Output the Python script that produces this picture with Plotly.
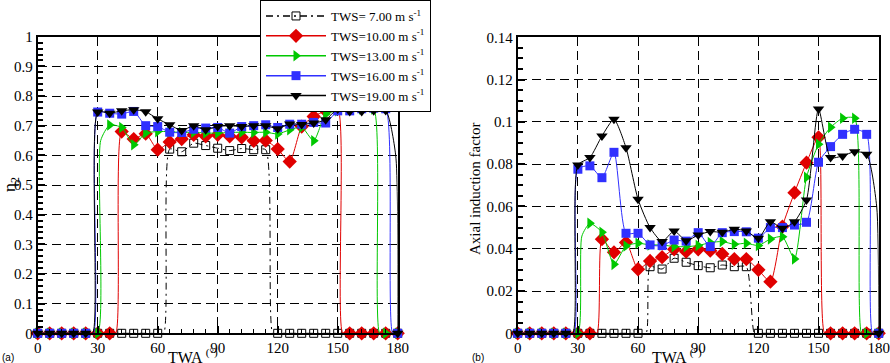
"""Two-panel sail chart: eta_2 and axial induction factor vs true wind angle."""

import plotly.graph_objects as go

SERIF = "Liberation Serif"

twa = list(range(0, 181, 6))

names = [
    "TWS= 7.00 m s<sup>-1</sup>",
    "TWS=10.00 m s<sup>-1</sup>",
    "TWS=13.00 m s<sup>-1</sup>",
    "TWS=16.00 m s<sup>-1</sup>",
    "TWS=19.00 m s<sup>-1</sup>",
]

# panel (a): eta_2 at every 6 deg
eta_7 = [0] * 11 + [0.621, 0.612, 0.641, 0.633, 0.624, 0.616, 0.623, 0.619, 0.619] + [0] * 11
eta_10 = [0] * 7 + [0.68, 0.655, 0.673, 0.619, 0.645, 0.655, 0.669, 0.664, 0.669, 0.664,
                    0.661, 0.649, 0.65, 0.621, 0.579, 0.697, 0.731, 0.75, 0.758] + [0] * 5
eta_13 = [0] * 6 + [0.702, 0.694, 0.636, 0.675, 0.68, 0.68, 0.677, 0.678, 0.675, 0.675,
                    0.677, 0.678, 0.677, 0.678, 0.672, 0.686, 0.695, 0.649, 0.739, 0.75,
                    0.758, 0.756, 0.756, 0, 0]
eta_16 = [0] * 5 + [0.746, 0.742, 0.739, 0.748, 0.70, 0.697, 0.678, 0.677, 0.688, 0.692,
                    0.694, 0.675, 0.697, 0.70, 0.703, 0.694, 0.705, 0.705, 0.711, 0.709,
                    0.75, 0.75, 0.757, 0.759, 0.757, 0]
eta_19 = [0] * 5 + [0.746, 0.742, 0.75, 0.754, 0.747, 0.723, 0.703, 0.684, 0.70, 0.686,
                    0.697, 0.70, 0.697, 0.70, 0.70, 0.69, 0.706, 0.704, 0.709, 0.72,
                    0.756, 0.748, 0.748, 0.75, 0.751, 0]

# panel (b): axial induction factor at every 6 deg
aif_7 = [0] * 11 + [0.0315, 0.0304, 0.0355, 0.0336, 0.032, 0.031, 0.0323, 0.0315, 0.0315] + [0] * 11
aif_10 = [0] * 7 + [0.0445, 0.0383, 0.043, 0.0303, 0.0342, 0.036, 0.0397, 0.0386, 0.0397,
                    0.0391, 0.0375, 0.0351, 0.0351, 0.030, 0.0244, 0.0505, 0.0665, 0.0807,
                    0.0927] + [0] * 5
aif_13 = [0] * 6 + [0.052, 0.0478, 0.0326, 0.0413, 0.0426, 0.0418, 0.0418, 0.041, 0.041,
                    0.0415, 0.0429, 0.0434, 0.0421, 0.0426, 0.0415, 0.0446, 0.0457, 0.0352,
                    0.0738, 0.0894, 0.0974, 0.1017, 0.1017, 0, 0]
aif_16 = [0] * 5 + [0.0776, 0.0792, 0.0736, 0.0856, 0.0473, 0.0473, 0.0418, 0.0415, 0.0441,
                    0.0436, 0.0476, 0.041, 0.0476, 0.0481, 0.048, 0.045, 0.050, 0.050,
                    0.0512, 0.0525, 0.0809, 0.0883, 0.0941, 0.0965, 0.0941, 0]
aif_19 = [0] * 5 + [0.0796, 0.0831, 0.0933, 0.1012, 0.0878, 0.0634, 0.050, 0.0434, 0.0484,
                    0.0438, 0.0465, 0.0481, 0.0478, 0.0492, 0.0484, 0.0449, 0.0528, 0.0497,
                    0.0528, 0.0631, 0.1061, 0.0831, 0.0839, 0.0859, 0.0847, 0]

# where the curves leave / rejoin zero between the 6 deg samples
eta_edges = [
    [(63, 0), (117.5, 0)],
    [(39, 0), (152.5, 0)],
    [(31.5, 0.65), (171, 0)],
    [(27.8, 0), (177.5, 0)],
    [(27.5, 0), (179, 0.6)],
]
aif_edges = [
    [(64, 0), (118, 0)],
    [(39.5, 0), (153, 0)],
    [(32, 0.046), (171.5, 0)],
    [(28, 0), (177, 0)],
    [(27.5, 0), (179, 0.06)],
]

colors = ["black", "#e00000", "#00c800", "#3030ff", "black"]
symbols = ["square-open", "diamond", "triangle-right", "square", "triangle-down"]
sizes = [8, 11, 10, 9, 10]
dashes = ["7px,4px,2px,4px", "solid", "solid", "solid", "solid"]


def _merge(y, extra):
    pts = sorted(list(zip(twa, y)) + extra)
    return [p[0] for p in pts], [p[1] for p in pts]


fig = go.Figure()

panels = [
    ([eta_7, eta_10, eta_13, eta_16, eta_19], eta_edges, "x", "y"),
    ([aif_7, aif_10, aif_13, aif_16, aif_19], aif_edges, "x2", "y2"),
]
for series, edges, xa, ya in panels:
    for i, y in enumerate(series):
        lx, ly = _merge(y, edges[i])
        fig.add_trace(go.Scatter(
            x=lx, y=ly, mode="lines", xaxis=xa, yaxis=ya, showlegend=False,
            line=dict(color=colors[i], width=1, dash=dashes[i], shape="spline", smoothing=0.6),
            hoverinfo="skip",
        ))
        fig.add_trace(go.Scatter(
            x=twa, y=y, mode="markers", xaxis=xa, yaxis=ya, showlegend=False,
            cliponaxis=False,
            marker=dict(symbol=symbols[i], size=sizes[i], color=colors[i],
                        line=dict(width=1 if i == 0 else 0, color=colors[i])),
        ))

# legend entries only
for i, name in enumerate(names):
    fig.add_trace(go.Scatter(
        x=[None], y=[None], mode="lines+markers", name=name,
        line=dict(color=colors[i], width=1.5, dash=dashes[i]),
        marker=dict(symbol=symbols[i], size=sizes[i], color=colors[i],
                    line=dict(width=1 if i == 0 else 0, color=colors[i])),
    ))

axis_common = dict(
    ticks="inside", ticklen=7, tickwidth=2, tickcolor="black",
    showline=True, mirror=True, linewidth=2, linecolor="black",
    showgrid=True, gridcolor="black", gridwidth=1, griddash="9px,5px",
    zeroline=False, automargin=False,
    tickfont=dict(family=SERIF, size=15, color="black"),
)
x_common = dict(axis_common, range=[0, 180], tick0=0, dtick=30,
                minor=dict(ticks="inside", ticklen=4, tickwidth=1, tickcolor="black", dtick=6))

fig.update_layout(
    template="none",
    width=890, height=363,
    margin=dict(l=0, r=0, t=0, b=0),
    paper_bgcolor="white", plot_bgcolor="white",
    font=dict(family=SERIF, size=13, color="black"),
    xaxis=dict(x_common, domain=[37.7 / 890, 397.7 / 890], anchor="y"),
    xaxis2=dict(x_common, domain=[517.7 / 890, 878.7 / 890], anchor="y2"),
    yaxis=dict(axis_common, range=[0, 1], dtick=0.1, domain=[29.7 / 363, 326.3 / 363],
               anchor="x",
               minor=dict(ticks="inside", ticklen=5, tickwidth=1.5, tickcolor="black", dtick=0.02)),
    yaxis2=dict(axis_common, range=[0, 0.14], dtick=0.02, domain=[29.7 / 363, 325.7 / 363],
                anchor="x2",
                minor=dict(ticks="inside", ticklen=5, tickwidth=1.5, tickcolor="black", dtick=0.005)),
    legend=dict(
        x=260 / 890, y=1, xanchor="left", yanchor="top",
        bgcolor="white", bordercolor="black", borderwidth=1,
        font=dict(family=SERIF, size=13, color="black"),
        itemwidth=60, tracegroupgap=0,
    ),
    showlegend=True,
)

annotations = [
    dict(text="η<sub>2</sub>", x=11, y=185, textangle=-90, size=17),
    dict(text="Axial induction factor", x=475, y=189, textangle=-90, size=15),
    dict(text="TWA <sup>(°)</sup>", x=193, y=356, textangle=0, size=16),
    dict(text="TWA <sup>(°)</sup>", x=677, y=356, textangle=0, size=16),
]
for a in annotations:
    fig.add_annotation(
        text=a["text"], x=a["x"] / 890, y=1 - a["y"] / 363, xref="paper", yref="paper",
        textangle=a["textangle"], showarrow=False, xanchor="center", yanchor="middle",
        font=dict(family=SERIF, size=a["size"], color="black"),
    )
for label, px in [("(a)", 8), ("(b)", 478)]:
    fig.add_annotation(
        text=label, x=px / 890, y=1 - 357 / 363, xref="paper", yref="paper",
        showarrow=False, xanchor="center", yanchor="middle",
        font=dict(family="Liberation Sans", size=10, color="black"),
    )

# the browser's default 8px body margin would push the figure off the window
fig.write_html("out.html", config={"displayModeBar": False},
               post_script="document.body.style.margin='0';")
